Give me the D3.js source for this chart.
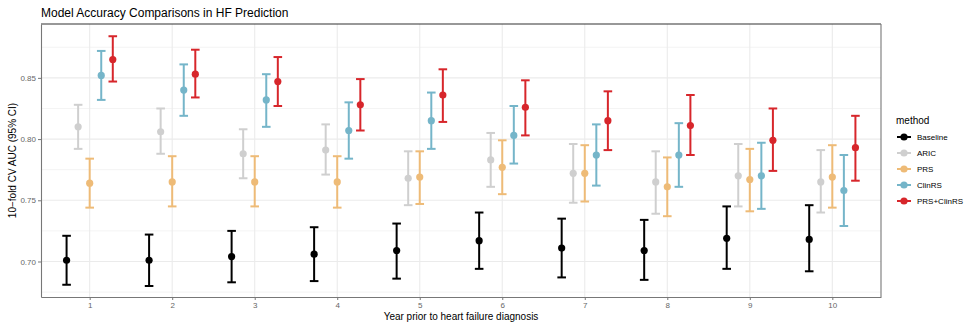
<!DOCTYPE html>
<html lang="en">
<head>
  <meta charset="UTF-8">
  <title>Model Accuracy Comparisons in HF Prediction</title>
  <script src="https://d3js.org/d3.v7.min.js"></script>
  <style>
    body { margin: 0; background: #fff; font-family: "Liberation Sans", Arial, sans-serif; }
  </style>
</head>
<body>
  <script>
    // data
    var years = [1, 2, 3, 4, 5, 6, 7, 8, 9, 10];
    var methods = ["Baseline", "ARIC", "PRS", "ClinRS", "PRS+ClinRS"];
    var colors = ["#000000", "#cfcfcf", "#eebb77", "#75b5c9", "#d7262b"];

    var baselineAUC = [0.701, 0.701, 0.704, 0.706, 0.709, 0.717, 0.711, 0.709, 0.719, 0.718];
    var baselineLo  = [0.681, 0.680, 0.683, 0.684, 0.686, 0.694, 0.687, 0.685, 0.694, 0.692];
    var baselineHi  = [0.721, 0.722, 0.725, 0.728, 0.731, 0.740, 0.735, 0.734, 0.745, 0.746];

    var aricAUC = [0.810, 0.806, 0.788, 0.791, 0.768, 0.783, 0.772, 0.765, 0.770, 0.765];
    var aricLo  = [0.792, 0.788, 0.768, 0.771, 0.746, 0.761, 0.748, 0.739, 0.745, 0.740];
    var aricHi  = [0.828, 0.825, 0.808, 0.812, 0.790, 0.805, 0.796, 0.790, 0.796, 0.791];

    var prsAUC = [0.764, 0.765, 0.765, 0.765, 0.769, 0.777, 0.772, 0.761, 0.767, 0.769];
    var prsLo  = [0.744, 0.745, 0.745, 0.744, 0.747, 0.755, 0.749, 0.737, 0.741, 0.744];
    var prsHi  = [0.784, 0.786, 0.786, 0.786, 0.790, 0.799, 0.795, 0.785, 0.792, 0.795];

    var clinAUC = [0.852, 0.840, 0.832, 0.807, 0.815, 0.803, 0.787, 0.787, 0.770, 0.758];
    var clinLo  = [0.832, 0.819, 0.810, 0.784, 0.792, 0.780, 0.762, 0.761, 0.743, 0.729];
    var clinHi  = [0.872, 0.861, 0.853, 0.830, 0.838, 0.827, 0.812, 0.813, 0.797, 0.787];

    var bothAUC = [0.865, 0.853, 0.847, 0.828, 0.836, 0.826, 0.815, 0.811, 0.799, 0.793];
    var bothLo  = [0.847, 0.834, 0.827, 0.807, 0.814, 0.803, 0.791, 0.787, 0.774, 0.766];
    var bothHi  = [0.884, 0.873, 0.867, 0.849, 0.857, 0.848, 0.839, 0.836, 0.825, 0.819];

    var yTicks = [0.70, 0.75, 0.80, 0.85];
    var yMinor = [0.675, 0.725, 0.775, 0.825, 0.875];

    var seriesAUC = [baselineAUC, aricAUC, prsAUC, clinAUC, bothAUC];
    var seriesLo = [baselineLo, aricLo, prsLo, clinLo, bothLo];
    var seriesHi = [baselineHi, aricHi, prsHi, clinHi, bothHi];

    var rows = [];
    methods.forEach(function (m, k) {
      years.forEach(function (yr, i) {
        rows.push({ method: m, k: k, year: yr, auc: seriesAUC[k][i], lo: seriesLo[k][i], hi: seriesHi[k][i] });
      });
    });

    var W = 966, H = 323;
    var margin = { top: 24, right: 85, bottom: 26, left: 41 };
    var width = W - margin.left - margin.right;
    var height = H - margin.top - margin.bottom;

    var svg = d3.select("body").append("svg")
      .attr("width", W)
      .attr("height", H);

    var g = svg.append("g")
      .attr("transform", "translate(" + margin.left + "," + margin.top + ")");

    var x = d3.scaleLinear().domain([0.41, 10.59]).range([0, width]);
    var y = d3.scaleLinear().domain([0.671, 0.894]).range([height, 0]);
    var color = d3.scaleOrdinal().domain(methods).range(colors);
    var dodge = d3.scalePoint().domain(methods).range([-0.28, 0.28]);

    // grid
    g.selectAll(".minor").data(yMinor).enter().append("line")
      .attr("x1", 0).attr("x2", width)
      .attr("y1", function (d) { return y(d); }).attr("y2", function (d) { return y(d); })
      .attr("stroke", "#ebebeb").attr("stroke-width", 0.6);
    g.selectAll(".major").data(yTicks).enter().append("line")
      .attr("x1", 0).attr("x2", width)
      .attr("y1", function (d) { return y(d); }).attr("y2", function (d) { return y(d); })
      .attr("stroke", "#ebebeb").attr("stroke-width", 1.1);
    g.selectAll(".vgrid").data(years).enter().append("line")
      .attr("x1", function (d) { return x(d); }).attr("x2", function (d) { return x(d); })
      .attr("y1", 0).attr("y2", height)
      .attr("stroke", "#ebebeb").attr("stroke-width", 1.1);

    // panel border: dark top, grey sides/bottom
    g.append("line").attr("x1", 0).attr("x2", width).attr("y1", 0).attr("y2", 0)
      .attr("stroke", "#333").attr("stroke-width", 1.1);
    g.append("line").attr("x1", width).attr("x2", width).attr("y1", 0).attr("y2", height)
      .attr("stroke", "#777").attr("stroke-width", 1.1);

    // axes
    var yAxis = g.append("g")
      .call(d3.axisLeft(y).tickValues(yTicks).tickFormat(d3.format(".2f"))
        .tickSize(3).tickSizeOuter(0).tickPadding(2));
    var xAxis = g.append("g")
      .attr("transform", "translate(0," + height + ")")
      .call(d3.axisBottom(x).tickValues(years).tickFormat(d3.format("d"))
        .tickSize(3).tickSizeOuter(0).tickPadding(2));
    [xAxis, yAxis].forEach(function (a) {
      a.select(".domain").attr("stroke", "#777").attr("stroke-width", 1.1);
      a.selectAll(".tick line").attr("stroke", "#777");
      a.selectAll(".tick text").attr("fill", "#666").style("font-size", "8px")
        .style("font-family", "Liberation Sans, Arial, sans-serif");
    });

    // error bars
    var capW = 4.3;
    var bars = g.selectAll(".bar").data(rows).enter().append("g")
      .attr("stroke", function (d) { return color(d.method); })
      .attr("fill", function (d) { return color(d.method); });
    bars.append("line")
      .attr("x1", function (d) { return x(d.year + dodge(d.method)); })
      .attr("x2", function (d) { return x(d.year + dodge(d.method)); })
      .attr("y1", function (d) { return y(d.lo); })
      .attr("y2", function (d) { return y(d.hi); })
      .attr("stroke-width", 2);
    bars.append("line")
      .attr("x1", function (d) { return x(d.year + dodge(d.method)) - capW; })
      .attr("x2", function (d) { return x(d.year + dodge(d.method)) + capW; })
      .attr("y1", function (d) { return y(d.hi); })
      .attr("y2", function (d) { return y(d.hi); })
      .attr("stroke-width", 2);
    bars.append("line")
      .attr("x1", function (d) { return x(d.year + dodge(d.method)) - capW; })
      .attr("x2", function (d) { return x(d.year + dodge(d.method)) + capW; })
      .attr("y1", function (d) { return y(d.lo); })
      .attr("y2", function (d) { return y(d.lo); })
      .attr("stroke-width", 2);
    bars.append("circle")
      .attr("cx", function (d) { return x(d.year + dodge(d.method)); })
      .attr("cy", function (d) { return y(d.auc); })
      .attr("r", 3.6)
      .attr("stroke", "none");

    // title and axis titles
    svg.append("text")
      .attr("x", 41).attr("y", 17)
      .style("font-size", "12px")
      .attr("fill", "#000")
      .text("Model Accuracy Comparisons in HF Prediction");
    svg.append("text")
      .attr("x", margin.left + width / 2).attr("y", 320)
      .attr("text-anchor", "middle")
      .style("font-size", "10px")
      .text("Year prior to heart failure diagnosis");
    svg.append("text")
      .attr("transform", "translate(16," + (margin.top + height / 2) + ") rotate(-90)")
      .attr("text-anchor", "middle")
      .style("font-size", "10px")
      .text("10\u2212fold CV AUC (95% CI)");

    // legend
    var legend = svg.append("g").attr("transform", "translate(896,0)");
    legend.append("text")
      .attr("x", 0).attr("y", 124)
      .style("font-size", "10px")
      .text("method");
    var items = legend.selectAll(".item").data(methods).enter().append("g")
      .attr("transform", function (d, i) { return "translate(0," + (137 + i * 16) + ")"; });
    items.append("line")
      .attr("x1", 1).attr("x2", 15).attr("y1", 0).attr("y2", 0)
      .attr("stroke", function (d) { return color(d); })
      .attr("stroke-width", 2);
    items.append("circle")
      .attr("cx", 8).attr("cy", 0).attr("r", 3.6)
      .attr("fill", function (d) { return color(d); });
    items.append("text")
      .attr("x", 21).attr("y", 3)
      .style("font-size", "8px")
      .attr("fill", "#000")
      .text(function (d) { return d; });
  </script>
</body>
</html>
